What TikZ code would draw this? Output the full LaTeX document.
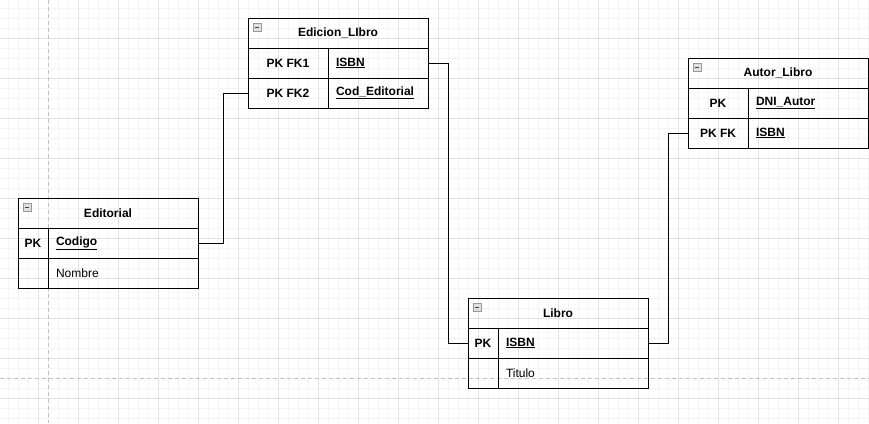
\documentclass[tikz,border=0pt]{standalone}
\usepackage{fontspec}
\setmainfont{Liberation Sans}
\usepackage{xcolor}
\usetikzlibrary{positioning}

\definecolor{gridmaj}{HTML}{E2E2E2}
\definecolor{gridmin}{HTML}{F4F4F4}
\definecolor{pagebrk}{HTML}{C2C2C2}

\tikzset{
  tabhead/.style={draw, line width=1pt, minimum width=180pt, minimum height=30pt, inner sep=0pt, outer sep=0pt, anchor=north west, font=\fontsize{12}{14}\selectfont\bfseries},
  keycell/.style={draw, line width=1pt, minimum width=#1, minimum height=30pt, inner sep=0pt, outer sep=0pt, anchor=north west, font=\fontsize{12}{14}\selectfont\bfseries},
  fieldcell/.style={draw, line width=1pt, text width=#1, align=left, minimum height=30pt, inner xsep=8pt, inner ysep=0pt, outer sep=0pt, anchor=north west, font=\fontsize{12}{14}\selectfont},
  keyfield/.style={fieldcell=#1, font=\fontsize{12}{14}\selectfont\bfseries},
  fk/.style={line width=1pt},
  minusbox/.style={draw=gray!80, fill=gray!25, line width=0.8pt}
}

\begin{document}
\begin{tikzpicture}[x=1pt,y=-1pt]

\useasboundingbox[fill=white] (0,0) rectangle (869,423);

% Raster
\foreach \g in {0,...,86} \draw[gridmin, line width=0.8pt] (8.3+10*\g,0) -- (8.3+10*\g,423);
\foreach \g in {0,...,41} \draw[gridmin, line width=0.8pt] (0,8.3+10*\g) -- (869,8.3+10*\g);
\foreach \g in {0,...,20} \draw[gridmaj, line width=0.8pt] (38.3+40*\g,0) -- (38.3+40*\g,423);
\foreach \g in {0,...,9} \draw[gridmaj, line width=0.8pt] (0,38.3+40*\g) -- (869,38.3+40*\g);
\draw[pagebrk, dash pattern=on 4pt off 3pt, line width=0.8pt] (48.3,0) -- (48.3,423);	% Seitenumbruch vertikal
\draw[pagebrk, dash pattern=on 4pt off 3pt, line width=0.8pt] (0,378.3) -- (869,378.3);	% Seitenumbruch horizontal

% Edicion_LIbro
\node[tabhead] (edl) at (248,18) {Edicion\_LIbro};
\node[keycell=80pt] (edlpk1) at (248,48) {PK FK1};
\node[keyfield=84pt] (edlisbn) at (328,48) {\underline{ISBN}};
\node[keycell=80pt] (edlpk2) at (248,78) {PK FK2};
\node[keyfield=84pt] (edlcod) at (328,78) {\underline{Cod\_Editorial}};

% Editorial
\node[tabhead] (edit) at (18,198) {Editorial};
\node[keycell=30pt] (editpk) at (18,228) {PK};
\node[keyfield=134pt] (editcod) at (48,228) {\underline{Codigo}};
\node[keycell=30pt] (editnone) at (18,258) {};
\node[fieldcell=134pt] (editnom) at (48,258) {Nombre};

% Libro
\node[tabhead] (lib) at (468,298) {Libro};
\node[keycell=30pt] (libpk) at (468,328) {PK};
\node[keyfield=134pt] (libisbn) at (498,328) {\underline{ISBN}};
\node[keycell=30pt] (libnone) at (468,358) {};
\node[fieldcell=134pt] (libtit) at (498,358) {Titulo};

% Autor_Libro
\node[tabhead] (aut) at (688,58) {Autor\_Libro};
\node[keycell=60pt] (autpk1) at (688,88) {PK};
\node[keyfield=104pt] (autdni) at (748,88) {\underline{DNI\_Autor}};
\node[keycell=60pt] (autpk2) at (688,118) {PK FK};
\node[keyfield=104pt] (autisbn) at (748,118) {\underline{ISBN}};

% Einklapp-Symbole
\foreach \t in {edl,edit,lib,aut} {
  \draw[minusbox] ([shift={(5,5)}]\t.north west) rectangle ([shift={(13,13)}]\t.north west);
  \draw[black!75, line width=1pt] ([shift={(7,9)}]\t.north west) -- ([shift={(11,9)}]\t.north west);
}

% Beziehungen
\draw[fk] (edlisbn.east) -- ++(20,0) |- (libpk.west);		% Edicion_LIbro -> Libro
\draw[fk] (edlpk2.west) -- ++(-25,0) |- (editcod.east);		% Edicion_LIbro -> Editorial
\draw[fk] (libisbn.east) -- ++(20,0) |- (autpk2.west);		% Libro -> Autor_Libro

\end{tikzpicture}
\end{document}
